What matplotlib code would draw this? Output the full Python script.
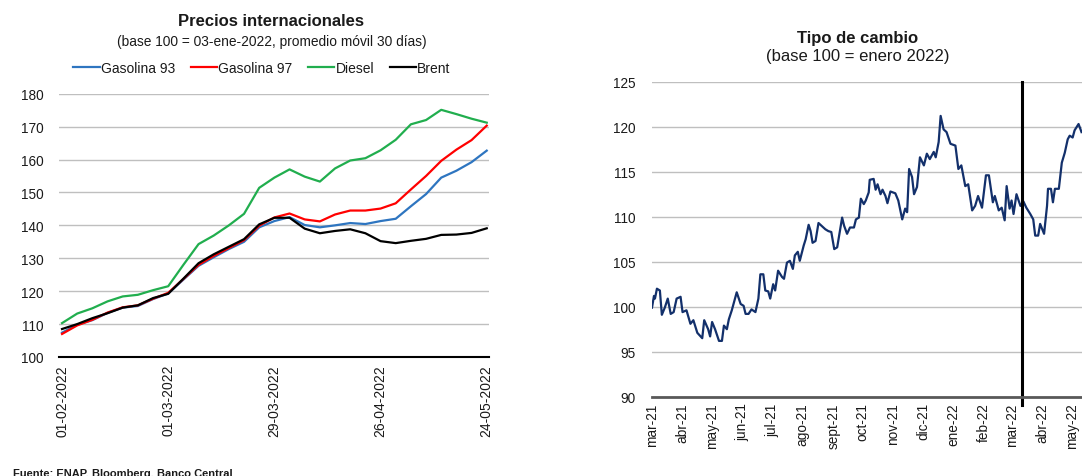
import matplotlib
matplotlib.use("Agg")
import matplotlib.pyplot as plt
import pandas as pd
import numpy as np

plt.rcParams['font.family'] = ['Liberation Sans', 'DejaVu Sans']

# ---------------- Left chart data: Precios internacionales ----------------
price_day = [0, 4, 8, 12, 16, 20, 24, 28, 32, 36, 40, 44, 48, 52, 56, 60,
             64, 68, 72, 76, 80, 84, 88, 92, 96, 100, 104, 108, 112]
gasolina93 = [107.4, 109.8, 111.2, 113.4, 115.0, 115.5, 117.6, 119.3, 123.5, 127.7,
              130.3, 132.8, 135.0, 139.4, 141.3, 142.5, 140.1, 139.4, 140.0, 140.7,
              140.4, 141.3, 142.0, 145.8, 149.5, 154.5, 156.6, 159.2, 162.7]
gasolina97 = [107.0, 109.6, 111.3, 113.5, 115.1, 115.7, 117.7, 119.5, 123.7, 128.0,
              130.7, 133.1, 135.5, 139.9, 142.4, 143.6, 141.8, 141.2, 143.3, 144.5,
              144.5, 145.1, 146.7, 150.9, 155.0, 159.6, 163.0, 165.9, 170.3]
diesel = [110.3, 113.2, 114.8, 116.9, 118.4, 118.9, 120.3, 121.5, 128.0, 134.3,
          136.9, 140.0, 143.5, 151.4, 154.5, 157.0, 154.8, 153.3, 157.3, 159.7,
          160.4, 162.8, 166.0, 170.7, 172.0, 175.1, 173.8, 172.4, 171.2]
brent = [108.5, 110.0, 111.8, 113.3, 115.0, 115.7, 117.9, 119.2, 123.8, 128.5,
         131.2, 133.5, 135.8, 140.3, 142.3, 142.3, 139.0, 137.6, 138.3, 138.8,
         137.6, 135.2, 134.6, 135.3, 135.9, 137.1, 137.2, 137.7, 139.1]
price_tick_day = [0, 28, 56, 84, 112]
price_tick_labels = ['01-02-2022', '01-03-2022', '29-03-2022', '26-04-2022', '24-05-2022']
price_series_names = ['Gasolina 93', 'Gasolina 97', 'Diesel', 'Brent']

# ---------------- Right chart data: Tipo de cambio ----------------
fx_start = '2021-03-01'
fx_day = [0, 2, 3, 5, 8, 10, 13, 16, 19, 22, 25, 29, 31, 35, 39, 42, 46, 51, 53, 57,
          59, 61, 64, 68, 71, 73, 76, 78, 81, 86, 90, 93, 95, 98, 101, 105, 108, 110,
          113, 115, 118, 120, 123, 125, 128, 132, 134, 137, 140, 143, 145, 148, 150,
          154, 156, 159, 161, 163, 166, 169, 172, 176, 179, 182, 185, 188, 193, 195,
          198, 201, 205, 207, 210, 212, 215, 217, 220, 221, 225, 227, 229, 232, 234,
          237, 239, 242, 247, 250, 254, 257, 259, 261, 264, 266, 269, 272, 276, 279,
          282, 286, 288, 291, 293, 296, 299, 303, 308, 311, 314, 318, 321, 325, 328,
          331, 335, 339, 342, 346, 348, 352, 355, 358, 360, 363, 365, 367, 370, 374,
          377, 380, 384, 387, 389, 392, 394, 398, 401, 402, 405, 407, 409, 413, 416,
          419, 422, 424, 427, 429, 433, 436]
fx_value = [99.9, 101.2, 100.9, 102.0, 101.8, 99.1, 99.9, 100.9, 99.2, 99.4, 100.9,
            101.1, 99.4, 99.6, 98.1, 98.5, 97.1, 96.5, 98.5, 97.5, 96.7, 98.3, 97.5,
            96.2, 96.2, 97.9, 97.5, 98.6, 99.6, 101.6, 100.3, 100.1, 99.2, 99.2, 99.7,
            99.4, 100.9, 103.6, 103.6, 101.8, 101.7, 100.9, 102.5, 101.8, 104.0, 103.3,
            103.1, 104.9, 105.1, 104.2, 105.7, 106.1, 105.1, 106.8, 107.5, 109.1, 108.4,
            107.1, 107.3, 109.3, 109.0, 108.6, 108.4, 108.3, 106.4, 106.6, 109.9, 109.0,
            108.1, 108.8, 108.8, 109.7, 109.9, 112.0, 111.4, 111.8, 112.7, 114.1, 114.2,
            113.0, 113.6, 112.5, 113.0, 112.3, 111.5, 112.8, 112.6, 111.8, 109.7, 110.9,
            110.5, 115.3, 114.4, 112.5, 113.3, 116.6, 115.7, 117.0, 116.4, 117.2, 116.6,
            118.3, 121.2, 119.7, 119.4, 118.1, 117.9, 115.3, 115.7, 113.4, 113.6, 110.7,
            111.2, 112.3, 111.0, 114.6, 114.6, 111.6, 112.3, 110.7, 111.0, 109.6, 113.4,
            110.9, 111.8, 110.3, 112.5, 111.2, 111.7, 111.0, 110.3, 109.7, 107.9, 107.9,
            109.2, 108.1, 111.2, 113.1, 113.1, 111.6, 113.1, 113.1, 116.0, 117.1, 118.6,
            119.0, 118.8, 119.6, 120.3, 119.4]
fx_month_labels = ['mar-21', 'abr-21', 'may-21', 'jun-21', 'jul-21', 'ago-21', 'sept-21',
                   'oct-21', 'nov-21', 'dic-21', 'ene-22', 'feb-22', 'mar-22', 'abr-22',
                   'may-22']
fx_marker_date = '2022-03-12'

# ---------------- Figure ----------------
W, H = 1082, 477
fig = plt.figure(figsize=(W / 100, H / 100), dpi=100)
fig.patch.set_facecolor('white')

grid_color = '#BFBFBF'
text_color = '#1a1a1a'

# Left axes
axL = fig.add_axes([59 / W, 1 - 358 / H, 430 / W, (358 - 94.7) / H])
colors = ['#2E75C0', '#FF0000', '#21AE4E', '#000000']
for vals, c, name in zip([gasolina93, gasolina97, diesel, brent], colors, price_series_names):
    axL.plot(price_day, vals, color=c, lw=1.6, label=name, solid_joinstyle='round')
axL.set_ylim(100, 180)
axL.set_xlim(-0.8, 112.6)
axL.set_yticks(np.arange(100, 181, 10))
axL.set_xticks(price_tick_day)
axL.set_xticklabels(price_tick_labels, rotation=90, fontsize=10, color=text_color)
axL.tick_params(axis='y', length=0, pad=11, labelsize=9.8, labelcolor=text_color)
axL.tick_params(axis='x', length=0, pad=5)
axL.grid(axis='y', color=grid_color, lw=1)
axL.set_axisbelow(True)
for s in ['top', 'right', 'left']:
    axL.spines[s].set_visible(False)
axL.spines['bottom'].set_color('black')
axL.spines['bottom'].set_linewidth(1.5)

fig.text(271 / W, 1 - 22 / H, 'Precios internacionales', ha='center', va='center',
         fontsize=12, fontweight='bold', color=text_color)
fig.text(272 / W, 1 - 42 / H, '(base 100 = 03-ene-2022, promedio móvil 30 días)',
         ha='center', va='center', fontsize=9.9, color=text_color)
leg = fig.legend(*axL.get_legend_handles_labels(), loc='center', ncol=4,
                 bbox_to_anchor=(262 / W, 1 - 69 / H), frameon=False, fontsize=10,
                 handlelength=1.9, handletextpad=0.1, columnspacing=1.1,
                 labelcolor=text_color)

# Right axes
axR = fig.add_axes([652 / W, 1 - 397.7 / H, (1082 - 652) / W, (397.7 - 82.7) / H])
fx_dates = pd.Timestamp(fx_start) + pd.to_timedelta(fx_day, unit='D')
axR.plot(fx_dates, fx_value, color='#13306B', lw=1.6, solid_joinstyle='round')
axR.set_ylim(90, 125)
axR.set_yticks(np.arange(90, 126, 5))
axR.set_xlim(pd.Timestamp('2021-03-01'), pd.Timestamp('2021-03-01') + pd.Timedelta(days=436.5))
month_ticks = pd.date_range('2021-03-01', periods=len(fx_month_labels), freq='MS')
axR.set_xticks(month_ticks)
axR.set_xticklabels(fx_month_labels, rotation=90, fontsize=9.8, color=text_color)
axR.tick_params(axis='y', length=0, pad=12, labelsize=9.8, labelcolor=text_color)
axR.tick_params(axis='x', length=0, pad=4)
axR.grid(axis='y', color=grid_color, lw=1)
axR.set_axisbelow(True)
for s in ['top', 'right', 'left']:
    axR.spines[s].set_visible(False)
axR.spines['bottom'].set_color('#595959')
axR.spines['bottom'].set_linewidth(2)
axR.axvline(pd.Timestamp(fx_marker_date), ymin=-0.025, ymax=1.0, color='black', lw=2.2,
            clip_on=False)

fig.text(858 / W, 1 - 38 / H, 'Tipo de cambio', ha='center', va='center',
         fontsize=12, fontweight='bold', color=text_color)
fig.text(858 / W, 1 - 57 / H, '(base 100 = enero 2022)', ha='center', va='center',
         fontsize=12, color=text_color)

fig.text(13 / W, 1 - 469 / H, 'Fuente: ENAP, Bloomberg, Banco Central', ha='left',
         va='top', fontsize=8, fontweight='bold', color=text_color)

fig.savefig('out.png', dpi=100)
